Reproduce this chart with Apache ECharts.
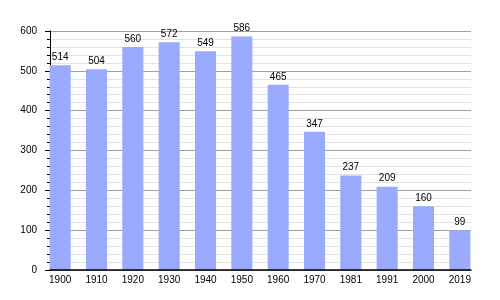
<!DOCTYPE html>
<html><head><meta charset="utf-8">
<script src="https://cdn.jsdelivr.net/npm/echarts@6/dist/echarts.min.js"></script>
<style>html,body{margin:0;padding:0;background:#fff}#c{width:500px;height:300px}</style>
</head><body><div id="c"></div>
<script>
const years = ['1900','1910','1920','1930','1940','1950','1960','1970','1981','1991','2000','2019'];
const population = [514,504,560,572,549,586,465,347,237,209,160,99];
const yTicks = {min:0,max:600,interval:100};
const font = 'Liberation Sans, Arial, sans-serif';
const chart = echarts.init(document.getElementById('c'));
chart.setOption({
  animation:false,
  grid:[
    {left:50,right:29,top:31,bottom:30},
    {left:42,right:22,top:31,bottom:30}
  ],
  xAxis:[
    {gridIndex:0,type:'category',data:years,z:5,
      axisLine:{lineStyle:{color:'#000',width:1.5}},axisTick:{show:false},axisLabel:{show:false}},
    {gridIndex:1,type:'category',data:years,
      axisLine:{show:false},axisTick:{show:false},
      axisLabel:{color:'#000',fontSize:10,fontFamily:font,margin:5}}
  ],
  yAxis:[
    {gridIndex:0,type:'value',min:yTicks.min,max:yTicks.max,interval:yTicks.interval,
      axisLine:{show:true,lineStyle:{color:'#000'}},
      axisTick:{show:true,length:5,lineStyle:{color:'#000'}},
      minorTick:{show:true,splitNumber:5,length:3,lineStyle:{color:'#000'}},
      splitLine:{lineStyle:{color:'#a0a0a0'}},
      minorSplitLine:{show:true,lineStyle:{color:'#e3e3e3'}},
      axisLabel:{color:'#000',fontSize:10,fontFamily:font,margin:13}},
    {gridIndex:1,type:'value',min:yTicks.min,max:yTicks.max,interval:yTicks.interval,
      show:false,splitLine:{show:false}}
  ],
  series:[{type:'bar',xAxisIndex:1,yAxisIndex:1,data:population,barWidth:'58%',
    itemStyle:{color:'#99aaff'},
    label:{show:true,position:'top',color:'#000',fontSize:10,fontFamily:font,distance:3}}]
});
</script></body></html>
